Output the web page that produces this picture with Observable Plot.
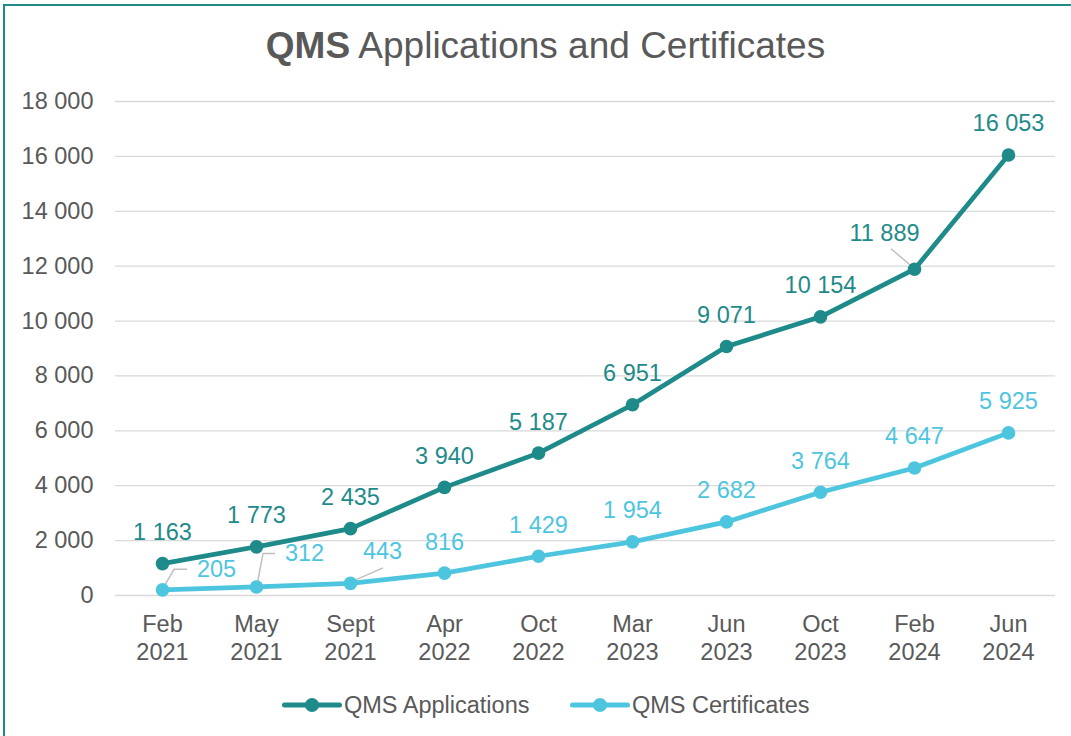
<!DOCTYPE html>
<html>
<head>
<meta charset="utf-8">
<script src="https://cdn.jsdelivr.net/npm/d3@7"></script>
<script src="https://cdn.jsdelivr.net/npm/@observablehq/plot@0.6"></script>
<style>
  html, body { margin: 0; padding: 0; width: 1071px; height: 736px; overflow: hidden; background: #fff; }
  body { position: relative; font-family: "Liberation Sans", Arial, sans-serif; color: #595959; }
  #frame { position: absolute; left: 3px; top: 4px; width: 1100px; height: 800px; border: 2px solid #1f8a8a; box-sizing: border-box; }
  #title { position: absolute; left: 0; width: 1091px; top: 24px; text-align: center; font-size: 37px; line-height: 44px; color: #595959; white-space: nowrap; }
  #chart { position: absolute; left: 0; top: 80px; }
  #legend { position: absolute; top: 690px; left: 0; width: 1071px; height: 30px; }
  .item { position: absolute; top: 0; display: flex; align-items: center; font-size: 23.5px; color: #595959; height: 30px; }
  .item svg { margin-right: 2px; }
</style>
</head>
<body>
<div id="frame"></div>
<div id="title"><b>QMS</b> Applications and Certificates</div>
<div id="chart"></div>
<div id="legend"></div>
<script>
// ---- data ----
const categories = ["Feb 2021", "May 2021", "Sept 2021", "Apr 2022", "Oct 2022", "Mar 2023", "Jun 2023", "Oct 2023", "Feb 2024", "Jun 2024"];
const applications = [1163, 1773, 2435, 3940, 5187, 6951, 9071, 10154, 11889, 16053];
const certificates = [205, 312, 443, 816, 1429, 1954, 2682, 3764, 4647, 5925];
const seriesNames = ["QMS Applications", "QMS Certificates"];
const yTicks = [0, 2000, 4000, 6000, 8000, 10000, 12000, 14000, 16000, 18000];

// ---- style / layout ----
const colors = {"QMS Applications": "#1f8a8a", "QMS Certificates": "#4ec5df"};
const fmt = d3.formatLocale({decimal: ".", thousands: " ", grouping: [3], currency: ["", ""]}).format(",");
const font = '"Liberation Sans", Arial, sans-serif';
const fs = 23.5;

// label nudges (pixels) for labels placed off the default position, with leader lines
const labelNudges = [
  {series: "QMS Applications", cat: "Feb 2024", dx: -30, dy: -36, leader: [[-3, -3], [-23, -20]]},
  {series: "QMS Certificates", cat: "Feb 2021", dx: 54, dy: -20, leader: [[1, -1], [12, -20], [25, -20]]},
  {series: "QMS Certificates", cat: "May 2021", dx: 48, dy: -33, leader: [[1, -1], [7, -33], [19, -33]]},
  {series: "QMS Certificates", cat: "Sept 2021", dx: 32, dy: -32, leader: [[1, -1], [33, -15]]}
];

const rows = [];
categories.forEach((c, i) => {
  rows.push({series: seriesNames[0], cat: c, value: applications[i]});
  rows.push({series: seriesNames[1], cat: c, value: certificates[i]});
});
const isNudged = d => labelNudges.some(n => n.series === d.series && n.cat === d.cat);
const findRow = n => rows.filter(d => d.series === n.series && d.cat === n.cat);

const leaderMark = (index, scales) => {
  const g = d3.create("svg:g").attr("fill", "none").attr("stroke", "#bfbfbf").attr("stroke-width", 1.5);
  for (const n of labelNudges) {
    const row = findRow(n)[0];
    const px = scales.x(row.cat), py = scales.y(row.value);
    g.append("polyline").attr("points", n.leader.map(([dx, dy]) => `${px + dx},${py + dy}`).join(" "));
  }
  return g.node();
};

const marks = [
  Plot.gridY(yTicks, {stroke: "#d9d9d9", strokeOpacity: 1, strokeWidth: 1.3}),
  Plot.axisY(yTicks, {tickSize: 0, tickPadding: 22, tickFormat: fmt, fontSize: fs, fill: "#595959", fontFamily: font}),
  Plot.axisX({tickSize: 0, tickPadding: 16, tickFormat: d => d.replace(" ", "\n"), fontSize: fs, lineHeight: 1.2, fill: "#595959", fontFamily: font}),
  leaderMark,
];
for (const s of seriesNames) {
  const data = rows.filter(d => d.series === s);
  marks.push(Plot.line(data, {x: "cat", y: "value", stroke: colors[s], strokeWidth: 4.7, strokeLinejoin: "round", strokeLinecap: "round"}));
  marks.push(Plot.dot(data, {x: "cat", y: "value", r: 6.8, fill: colors[s], stroke: "none"}));
  marks.push(Plot.text(data.filter(d => !isNudged(d)), {x: "cat", y: "value", text: d => fmt(d.value), dy: -31, fill: colors[s], fontSize: fs, fontFamily: font, lineAnchor: "middle"}));
}
for (const n of labelNudges) {
  marks.push(Plot.text(findRow(n), {x: "cat", y: "value", text: d => fmt(d.value), dx: n.dx, dy: n.dy, fill: colors[n.series], fontSize: fs, fontFamily: font, lineAnchor: "middle"}));
}

const plot = Plot.plot({
  width: 1071,
  height: 580,
  marginTop: 21,
  marginBottom: 65,
  marginLeft: 115,
  marginRight: 16,
  style: {fontFamily: font, background: "transparent", overflow: "visible"},
  x: {type: "point", domain: categories, padding: 0.5, label: null},
  y: {domain: [0, 18000], label: null},
  marks
});
document.getElementById("chart").appendChild(plot);

// legend
const legend = document.getElementById("legend");
const legendX = [282, 570];
seriesNames.forEach((s, i) => {
  const item = document.createElement("div");
  item.className = "item";
  item.style.left = legendX[i] + "px";
  item.innerHTML = `<svg width="60" height="16"><line x1="2.5" y1="8" x2="57.5" y2="8" stroke="${colors[s]}" stroke-width="5" stroke-linecap="round"/><circle cx="30" cy="8" r="7" fill="${colors[s]}"/></svg><span>${s}</span>`;
  legend.appendChild(item);
});
</script>
</body>
</html>
